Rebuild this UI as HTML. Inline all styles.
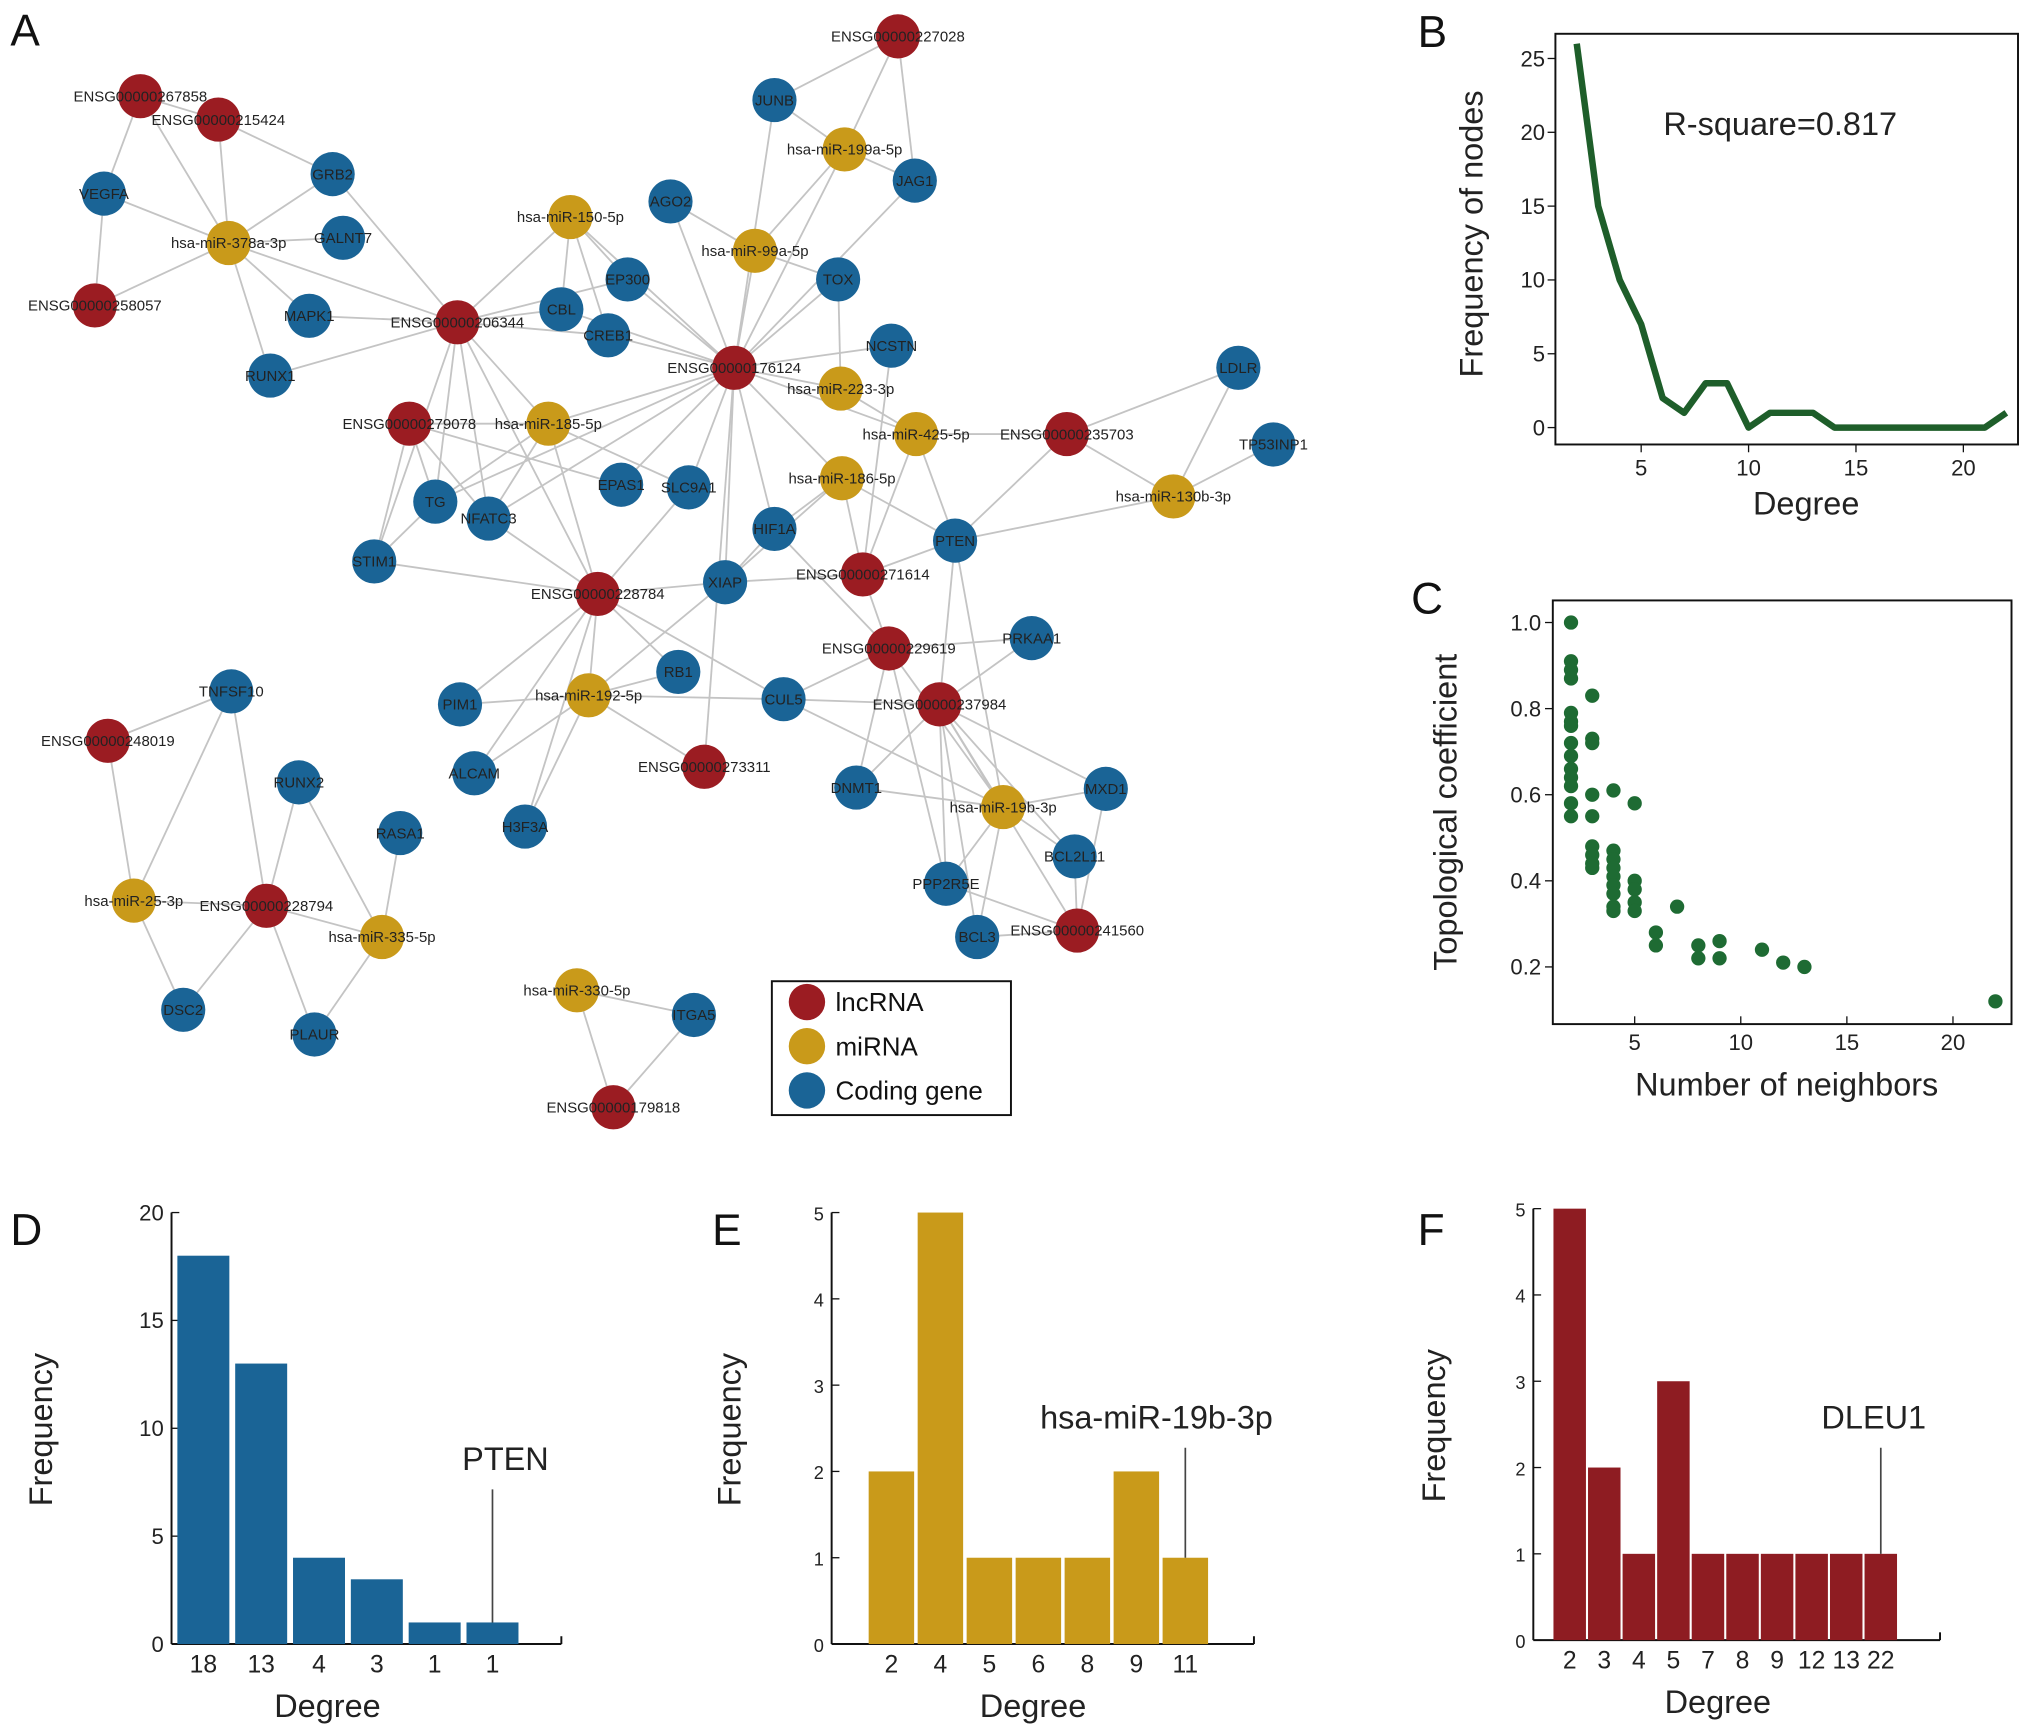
<!DOCTYPE html>
<html><head><meta charset="utf-8"><style>
html,body{margin:0;padding:0;background:#fff;width:2031px;height:1735px;overflow:hidden}
svg{display:block;font-family:"Liberation Sans",Arial,sans-serif}
</style></head><body>
<svg id="fig" width="2031" height="1735" viewBox="0 0 1563 1335" preserveAspectRatio="none" xmlns="http://www.w3.org/2000/svg">
<g id="net"></g>
<g id="pb"></g>
<g id="pc"></g>
<g id="pd"></g>
<g id="pe"></g>
<g id="pf"></g>
</svg>
<script>
// ---------- data ----------
const nodeNames=["ENSG00000267858","ENSG00000215424","ENSG00000258057","ENSG00000206344","ENSG00000227028","ENSG00000176124","ENSG00000279078","ENSG00000235703","ENSG00000228784","ENSG00000271614","ENSG00000229619","ENSG00000237984","ENSG00000273311","ENSG00000248019","ENSG00000228794","ENSG00000241560","ENSG00000179818",
"hsa-miR-378a-3p","hsa-miR-150-5p","hsa-miR-199a-5p","hsa-miR-99a-5p","hsa-miR-185-5p","hsa-miR-223-3p","hsa-miR-425-5p","hsa-miR-186-5p","hsa-miR-130b-3p","hsa-miR-192-5p","hsa-miR-19b-3p","hsa-miR-25-3p","hsa-miR-335-5p","hsa-miR-330-5p",
"JUNB","GRB2","VEGFA","AGO2","JAG1","GALNT7","EP300","TOX","CBL","MAPK1","CREB1","NCSTN","RUNX1","LDLR","TP53INP1","TG","NFATC3","EPAS1","SLC9A1","HIF1A","PTEN","STIM1","XIAP","PRKAA1","RB1","TNFSF10","PIM1","CUL5","RUNX2","ALCAM","DNMT1","MXD1","RASA1","H3F3A","BCL2L11","PPP2R5E","BCL3","DSC2","PLAUR","ITGA5"];
const nodeTypes=[0,0,0,0,0,0,0,0,0,0,0,0,0,0,0,0,0, 1,1,1,1,1,1,1,1,1,1,1,1,1,1, 2,2,2,2,2,2,2,2,2,2,2,2,2,2,2,2,2,2,2,2,2,2,2,2,2,2,2,2,2,2,2,2,2,2,2,2,2,2,2,2];
const nodeX=[108,168,73,352,691,565,315,821,460,664,684,723,542,83,205,829,472, 176,439,650,581,422,647,705,648,903,453,772,103,294,444, 596,256,80,516,704,264,483,645,432,238,468,686,208,953,980,335,376,478,530,596,735,288,558,794,522,178,354,603,230,365,659,851,308,404,827,728,752,141,242,534];
const nodeY=[74,92,235,248,28,283,326,334,457,442,499,542,590,570,697,716,852, 187,167,115,193,326,299,334,368,382,535,621,693,721,762, 77,134,149,155,139,183,215,215,238,243,258,266,289,283,342,386,399,373,375,407,416,432,448,491,517,532,542,538,602,595,606,607,641,636,659,680,721,777,796,781];
const edges=[["ENSG00000267858","hsa-miR-378a-3p"],["ENSG00000267858","VEGFA"],["ENSG00000267858","ENSG00000215424"],["ENSG00000215424","hsa-miR-378a-3p"],["ENSG00000215424","GRB2"],["ENSG00000258057","VEGFA"],["ENSG00000258057","hsa-miR-378a-3p"],["hsa-miR-378a-3p","VEGFA"],["hsa-miR-378a-3p","GRB2"],["hsa-miR-378a-3p","GALNT7"],["hsa-miR-378a-3p","MAPK1"],["hsa-miR-378a-3p","RUNX1"],["hsa-miR-378a-3p","ENSG00000206344"],["GRB2","ENSG00000206344"],["MAPK1","ENSG00000206344"],["RUNX1","ENSG00000206344"],["ENSG00000206344","hsa-miR-150-5p"],["ENSG00000206344","CBL"],["ENSG00000206344","CREB1"],["ENSG00000206344","EP300"],["ENSG00000206344","hsa-miR-185-5p"],["ENSG00000206344","TG"],["ENSG00000206344","NFATC3"],["ENSG00000206344","STIM1"],["ENSG00000206344","ENSG00000228784"],["hsa-miR-150-5p","CBL"],["hsa-miR-150-5p","EP300"],["hsa-miR-150-5p","CREB1"],["hsa-miR-150-5p","ENSG00000176124"],["ENSG00000227028","JUNB"],["ENSG00000227028","hsa-miR-199a-5p"],["ENSG00000227028","JAG1"],["JUNB","hsa-miR-199a-5p"],["hsa-miR-199a-5p","JAG1"],["hsa-miR-199a-5p","hsa-miR-99a-5p"],["hsa-miR-199a-5p","ENSG00000176124"],["JUNB","ENSG00000176124"],["ENSG00000176124","AGO2"],["ENSG00000176124","hsa-miR-99a-5p"],["ENSG00000176124","TOX"],["ENSG00000176124","JAG1"],["ENSG00000176124","NCSTN"],["ENSG00000176124","hsa-miR-223-3p"],["ENSG00000176124","hsa-miR-425-5p"],["ENSG00000176124","hsa-miR-186-5p"],["ENSG00000176124","EP300"],["ENSG00000176124","CREB1"],["ENSG00000176124","CBL"],["ENSG00000176124","hsa-miR-185-5p"],["ENSG00000176124","TG"],["ENSG00000176124","NFATC3"],["ENSG00000176124","SLC9A1"],["ENSG00000176124","EPAS1"],["ENSG00000176124","XIAP"],["ENSG00000176124","HIF1A"],["ENSG00000176124","ENSG00000273311"],["hsa-miR-99a-5p","AGO2"],["hsa-miR-99a-5p","TOX"],["TOX","hsa-miR-223-3p"],["hsa-miR-223-3p","hsa-miR-425-5p"],["NCSTN","ENSG00000271614"],["hsa-miR-425-5p","ENSG00000235703"],["hsa-miR-425-5p","PTEN"],["hsa-miR-425-5p","ENSG00000271614"],["ENSG00000235703","LDLR"],["ENSG00000235703","hsa-miR-130b-3p"],["ENSG00000235703","PTEN"],["LDLR","hsa-miR-130b-3p"],["TP53INP1","hsa-miR-130b-3p"],["hsa-miR-130b-3p","PTEN"],["hsa-miR-186-5p","HIF1A"],["hsa-miR-186-5p","ENSG00000271614"],["hsa-miR-186-5p","XIAP"],["hsa-miR-186-5p","PTEN"],["ENSG00000279078","hsa-miR-185-5p"],["ENSG00000279078","TG"],["ENSG00000279078","NFATC3"],["ENSG00000279078","STIM1"],["ENSG00000279078","EPAS1"],["hsa-miR-185-5p","TG"],["hsa-miR-185-5p","NFATC3"],["hsa-miR-185-5p","SLC9A1"],["hsa-miR-185-5p","ENSG00000228784"],["TG","STIM1"],["NFATC3","ENSG00000228784"],["STIM1","ENSG00000228784"],["SLC9A1","ENSG00000228784"],["ENSG00000228784","XIAP"],["ENSG00000228784","RB1"],["ENSG00000228784","CUL5"],["ENSG00000228784","PIM1"],["ENSG00000228784","hsa-miR-192-5p"],["ENSG00000228784","ALCAM"],["ENSG00000228784","H3F3A"],["XIAP","ENSG00000271614"],["XIAP","HIF1A"],["XIAP","hsa-miR-192-5p"],["HIF1A","ENSG00000229619"],["ENSG00000271614","PTEN"],["ENSG00000271614","ENSG00000229619"],["ENSG00000229619","PRKAA1"],["ENSG00000229619","CUL5"],["ENSG00000229619","DNMT1"],["ENSG00000229619","hsa-miR-19b-3p"],["ENSG00000229619","PPP2R5E"],["PTEN","hsa-miR-19b-3p"],["PTEN","ENSG00000237984"],["ENSG00000237984","PRKAA1"],["ENSG00000237984","DNMT1"],["ENSG00000237984","hsa-miR-19b-3p"],["ENSG00000237984","MXD1"],["ENSG00000237984","BCL2L11"],["ENSG00000237984","PPP2R5E"],["ENSG00000237984","BCL3"],["ENSG00000237984","ENSG00000241560"],["CUL5","ENSG00000237984"],["CUL5","hsa-miR-192-5p"],["CUL5","hsa-miR-19b-3p"],["hsa-miR-192-5p","PIM1"],["hsa-miR-192-5p","RB1"],["hsa-miR-192-5p","ALCAM"],["hsa-miR-192-5p","H3F3A"],["hsa-miR-192-5p","ENSG00000273311"],["DNMT1","hsa-miR-19b-3p"],["hsa-miR-19b-3p","MXD1"],["hsa-miR-19b-3p","BCL2L11"],["hsa-miR-19b-3p","PPP2R5E"],["hsa-miR-19b-3p","BCL3"],["BCL2L11","ENSG00000241560"],["PPP2R5E","ENSG00000241560"],["MXD1","ENSG00000241560"],["BCL3","ENSG00000241560"],["ENSG00000248019","hsa-miR-25-3p"],["ENSG00000248019","TNFSF10"],["TNFSF10","hsa-miR-25-3p"],["TNFSF10","ENSG00000228794"],["hsa-miR-25-3p","ENSG00000228794"],["hsa-miR-25-3p","DSC2"],["ENSG00000228794","RUNX2"],["ENSG00000228794","hsa-miR-335-5p"],["ENSG00000228794","PLAUR"],["ENSG00000228794","DSC2"],["RUNX2","hsa-miR-335-5p"],["RASA1","hsa-miR-335-5p"],["hsa-miR-335-5p","PLAUR"],["hsa-miR-330-5p","ITGA5"],["hsa-miR-330-5p","ENSG00000179818"],["ITGA5","ENSG00000179818"]];
const legendLabels=["lncRNA","miRNA","Coding gene"];
const colors=["#9b1c22","#c99a1a","#1a6496"];

// Panel B
const bDegree=[2,3,4,5,6,7,8,9,10,11,12,13,14,15,16,17,18,19,20,21,22];
const bFreq=[26,15,10,7,2,1,3,3,0,1,1,1,0,0,0,0,0,0,0,0,1];
const bYTicks=[0,5,10,15,20,25];
const bXTicks=[5,10,15,20];
// Panel C
const cNeighbors=[2,2,2,2,2,2,2,2,2,2,2,2,2,2,3,3,3,3,3,3,3,3,3,4,4,4,4,4,4,4,4,4,5,5,5,5,5,6,6,7,8,8,9,9,11,12,13,22];
const cCoef=[1.0,0.91,0.89,0.87,0.79,0.77,0.76,0.72,0.69,0.66,0.64,0.62,0.58,0.55,0.83,0.73,0.72,0.60,0.55,0.48,0.46,0.44,0.43,0.61,0.47,0.45,0.43,0.41,0.39,0.37,0.34,0.33,0.58,0.40,0.38,0.35,0.33,0.28,0.25,0.34,0.25,0.22,0.26,0.22,0.24,0.21,0.20,0.12];
const cYTicks=[0.2,0.4,0.6,0.8,1.0];
const cXTicks=[5,10,15,20];
// Panels D/E/F
const dCats=["18","13","4","3","1","1"]; const dVals=[18,13,4,3,1,1]; const dTicks=[0,5,10,15,20];
const eCats=["2","4","5","6","8","9","11"]; const eVals=[2,5,1,1,1,2,1]; const eTicks=[0,1,2,3,4,5];
const fCats=["2","3","4","5","7","8","9","12","13","22"]; const fVals=[5,2,1,3,1,1,1,1,1,1]; const fTicks=[0,1,2,3,4,5];

const NS="http://www.w3.org/2000/svg";
function mk(parent,tag,attrs,txt){const e=document.createElementNS(NS,tag);for(const k in attrs)e.setAttribute(k,attrs[k]);if(txt!==undefined)e.textContent=txt;parent.appendChild(e);return e;}
const fig=document.getElementById('fig');
function letter(x,y,t){const e=mk(fig,'text',{x:x,y:y,'font-size':34,fill:'#111'},t);}

// ---------- network ----------
const net=document.getElementById('net');
const idx={};nodeNames.forEach((n,i)=>idx[n]=i);
edges.forEach(([a,b])=>{const i=idx[a],j=idx[b];
 const l=mk(net,'line',{x1:nodeX[i],y1:nodeY[i],x2:nodeX[j],y2:nodeY[j],stroke:'#c4c4c4','stroke-width':1.4});
 
 });
nodeNames.forEach((n,i)=>{
 const c=mk(net,'circle',{cx:nodeX[i],cy:nodeY[i],r:17,fill:colors[nodeTypes[i]]});
 
 });
nodeNames.forEach((n,i)=>{
 const t=mk(net,'text',{x:nodeX[i],y:nodeY[i]+4,'font-size':11.5,'text-anchor':'middle',fill:'#222'},n);
 
 });
const lg=mk(net,'g',{});


mk(lg,'rect',{x:594,y:755,width:184,height:103,fill:'#fff',stroke:'#111','stroke-width':1.5});
legendLabels.forEach((L,i)=>{const y=771+i*34;
 const c=mk(lg,'circle',{cx:621,cy:y,r:14,fill:colors[i]});
 
 
 const t=mk(lg,'text',{x:643,y:y+7,'font-size':20,fill:'#111'},L);
 
 });
letter(8,35,'A');

// ---------- panel B ----------
const pb=document.getElementById('pb');
const bx=d=>1263+(d-5)*16.53, by=v=>329-v*11.36;
mk(pb,'rect',{x:1197,y:26,width:356,height:316,fill:'none',stroke:'#111','stroke-width':1.5});
bYTicks.forEach(v=>{mk(pb,'line',{x1:1197,x2:1191,y1:by(v),y2:by(v),stroke:'#111'});
 const t=mk(pb,'text',{x:1189,y:by(v)+6,'font-size':17,'text-anchor':'end',fill:'#222'},v);
 
 });
bXTicks.forEach(v=>{mk(pb,'line',{x1:bx(v),x2:bx(v),y1:342,y2:348,stroke:'#111'});
 const t=mk(pb,'text',{x:bx(v),y:366,'font-size':17,'text-anchor':'middle',fill:'#222'},v);
 
 });
const bl=mk(pb,'polyline',{points:bDegree.map((d,i)=>bx(d)+','+by(bFreq[i])).join(' '),fill:'none',stroke:'#1e5e2a','stroke-width':5,'stroke-linejoin':'round'});


let t;
t=mk(pb,'text',{x:1370,y:104,'font-size':25,'text-anchor':'middle',fill:'#222'},'R-square=0.817');

t=mk(pb,'text',{x:1390,y:396,'font-size':25,'text-anchor':'middle',fill:'#222'},'Degree');

t=mk(pb,'text',{x:0,y:0,'font-size':25,'text-anchor':'middle',fill:'#222',transform:'translate(1141,180) rotate(-90)'},'Frequency of nodes');

letter(1091,36,'B');

// ---------- panel C ----------
const pc=document.getElementById('pc');
const cx=n=>1258+(n-5)*16.33, cy=v=>744-(v-0.2)*331.25;
mk(pc,'rect',{x:1195,y:462,width:353,height:326,fill:'none',stroke:'#111','stroke-width':1.5});
cYTicks.forEach(v=>{mk(pc,'line',{x1:1195,x2:1189,y1:cy(v),y2:cy(v),stroke:'#111'});
 const t=mk(pc,'text',{x:1186,y:cy(v)+6,'font-size':17,'text-anchor':'end',fill:'#222'},v.toFixed(1));
 
 });
cXTicks.forEach(v=>{mk(pc,'line',{x1:cx(v),x2:cx(v),y1:788,y2:782,stroke:'#111'});
 const t=mk(pc,'text',{x:cx(v),y:808,'font-size':17,'text-anchor':'middle',fill:'#222'},v);
 
 });
cNeighbors.forEach((n,i)=>{const p=mk(pc,'circle',{cx:cx(n),cy:cy(cCoef[i]),r:5.5,fill:'#1e6b33'});
 
 });
t=mk(pc,'text',{x:1375,y:843,'font-size':25,'text-anchor':'middle',fill:'#222'},'Number of neighbors');

t=mk(pc,'text',{x:0,y:0,'font-size':25,'text-anchor':'middle',fill:'#222',transform:'translate(1121,625) rotate(-90)'},'Topological coefficient');

letter(1086,472,'C');

// ---------- bar panels ----------
function bars(g,o){
 const y=v=>o.y0-v*(o.y0-o.yTop)/o.max;
 mk(g,'line',{x1:o.ax,x2:o.ax,y1:o.yTop,y2:o.y0,stroke:'#111','stroke-width':1.5});
 mk(g,'line',{x1:o.ax,x2:o.axEnd,y1:o.y0,y2:o.y0,stroke:'#111','stroke-width':1.5});
 mk(g,'line',{x1:o.axEnd,x2:o.axEnd,y1:o.y0,y2:o.y0-6,stroke:'#111','stroke-width':1.5});
 o.ticks.forEach(v=>{mk(g,'line',{x1:o.ax,x2:o.ax+6,y1:y(v),y2:y(v),stroke:'#111'});
  const t=mk(g,'text',{x:o.ax-6,y:y(v)+6,'font-size':o.tfs,'text-anchor':'end',fill:'#222'},v);
  
  });
 o.cats.forEach((c,i)=>{const x=o.x0+i*o.step;
  const r=mk(g,'rect',{x:x-o.bw/2,y:y(o.vals[i]),width:o.bw,height:o.y0-y(o.vals[i]),fill:o.color});
  
  
  const t=mk(g,'text',{x:x,y:o.y0+22,'font-size':19,'text-anchor':'middle',fill:'#222'},c);
  
  });
 let t=mk(g,'text',{x:o.xt,y:o.y0+56,'font-size':25,'text-anchor':'middle',fill:'#222'},'Degree');
 
 t=mk(g,'text',{x:0,y:0,'font-size':25,'text-anchor':'middle',fill:'#222',transform:'translate('+o.yt+','+(o.y0-165)+') rotate(-90)'},'Frequency');
 
 const hi=o.cats.length-1, hx=o.x0+hi*o.step;
 mk(g,'line',{x1:hx,x2:hx,y1:o.annY+15,y2:y(o.vals[hi]),stroke:'#444','stroke-width':1.3});
 t=mk(g,'text',{x:o.annX,y:o.annY,'font-size':25,'text-anchor':'middle',fill:'#222'},o.ann);
 
}
bars(document.getElementById('pd'),{ax:132,axEnd:432,y0:1265,yTop:933,max:20,ticks:dTicks,tfs:17,cats:dCats,vals:dVals,x0:156.5,step:44.5,bw:40,color:'#1a6496',xt:252,yt:40,ann:'PTEN',annX:389,annY:1131});
bars(document.getElementById('pe'),{ax:640,axEnd:965,y0:1265,yTop:933,max:5,ticks:eTicks,tfs:14,cats:eCats,vals:eVals,x0:686,step:37.7,bw:35,color:'#c99a1a',xt:795,yt:570,ann:'hsa-miR-19b-3p',annX:890,annY:1099});
bars(document.getElementById('pf'),{ax:1180,axEnd:1493,y0:1262,yTop:930,max:5,ticks:fTicks,tfs:14,cats:fCats,vals:fVals,x0:1208,step:26.6,bw:25,color:'#8e1c22',xt:1322,yt:1112,ann:'DLEU1',annX:1442,annY:1099});
letter(8,958,'D');letter(548,958,'E');letter(1091,958,'F');
</script>
</body></html>
